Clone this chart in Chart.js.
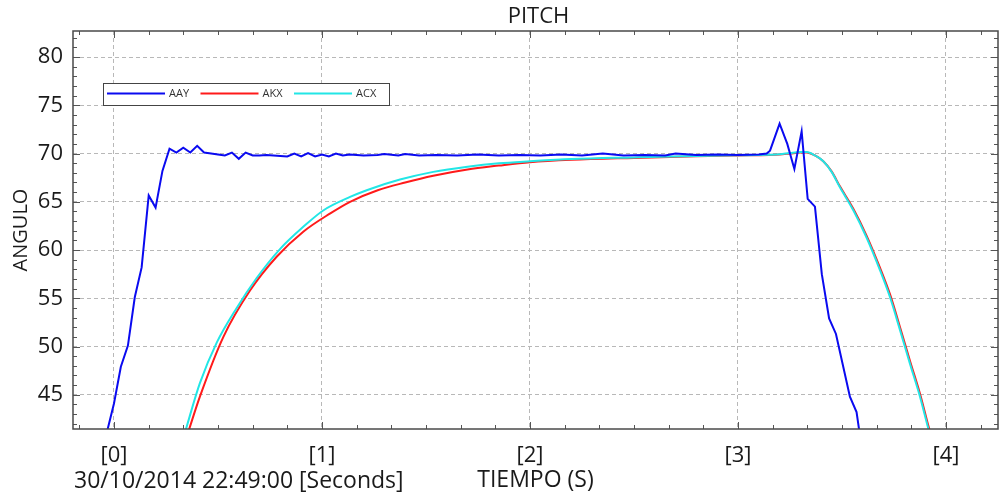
<!DOCTYPE html>
<html>
<head>
<meta charset="utf-8">
<title>PITCH</title>
<script src="https://cdn.jsdelivr.net/npm/chart.js@4.4.1/dist/chart.umd.min.js"></script>
<style>
  html, body { margin: 0; padding: 0; background: #fff; }
  canvas { display: block; }
</style>
</head>
<body>
<canvas id="pitchChart" width="1000" height="494"></canvas>
<script>
// series names and colours
var seriesNames = ['AAY', 'AKX', 'ACX'];
var seriesColors = ['#0a0af0', '#ff1a1a', '#22e6e6'];

// tick labels
var xTicks = [0, 1, 2, 3, 4];
var yTicks = [45, 50, 55, 60, 65, 70, 75, 80];

// AAY (sensor, raw)
var aayTime = [-0.033, 0, 0.033, 0.067, 0.1, 0.133, 0.167, 0.2, 0.233, 0.267, 0.3, 0.333, 0.367, 0.4,
  0.433, 0.467, 0.5, 0.533, 0.567, 0.6, 0.633, 0.667, 0.7, 0.733, 0.767, 0.8, 0.833, 0.867, 0.9,
  0.933, 0.967, 1.0, 1.033, 1.067, 1.1, 1.133, 1.2, 1.267, 1.3, 1.367, 1.4, 1.467, 1.55, 1.65,
  1.75, 1.85, 1.95, 2.05, 2.15, 2.25, 2.35, 2.45, 2.55, 2.65, 2.7, 2.8, 2.9, 3.0, 3.1, 3.138,
  3.154, 3.2, 3.237, 3.271, 3.306, 3.335, 3.37, 3.403, 3.438, 3.471, 3.506, 3.538, 3.57, 3.603];
var aayValues = [41.2, 44.1, 47.9, 50.1, 55.1, 58.2, 65.65, 64.4, 68.2, 70.5, 70.1, 70.6, 70.1, 70.8,
  70.1, 70.0, 69.9, 69.8, 70.1, 69.45, 70.1, 69.8, 69.8, 69.85, 69.8, 69.75, 69.7, 70.0, 69.7,
  70.05, 69.7, 69.9, 69.7, 70.0, 69.8, 69.9, 69.8, 69.85, 69.95, 69.8, 69.95, 69.8, 69.85, 69.8,
  69.9, 69.8, 69.85, 69.8, 69.9, 69.8, 70.0, 69.8, 69.85, 69.8, 70.0, 69.85, 69.9, 69.85, 69.9, 70.0,
  70.3, 73.1, 71.0, 68.4, 72.3, 65.3, 64.5, 57.5, 52.9, 51.3, 47.9, 44.8, 43.2, 38.3];

// AKX (filtered)
var akxTime = [0.355, 0.413, 0.526, 0.654, 0.782, 0.91, 1.04, 1.135, 1.268, 1.4, 1.535, 1.7, 1.85,
  2.0, 2.2, 2.5, 2.8, 3.0, 3.15, 3.2, 3.25, 3.3, 3.33, 3.37, 3.41, 3.45, 3.49, 3.555, 3.618,
  3.683, 3.731, 3.779, 3.827, 3.875, 3.915, 3.95];
var akxValues = [41.0, 44.8, 51.0, 55.8, 59.3, 61.9, 63.8, 65.0, 66.2, 67.0, 67.7, 68.35, 68.75,
  69.1, 69.35, 69.55, 69.72, 69.8, 69.85, 69.9, 70.0, 70.1, 70.12, 69.8, 69.2, 68.15, 66.6, 64.25, 61.5,
  58.15, 55.4, 52.0, 48.5, 45.1, 41.8, 39.1];

// ACX (complementary)
var acxTime = [0.34, 0.413, 0.494, 0.59, 0.686, 0.798, 0.91, 1.006, 1.135, 1.215, 1.375, 1.535, 1.7,
  1.85, 2.0, 2.2, 2.5, 2.8, 3.0, 3.15, 3.2, 3.25, 3.3, 3.33, 3.37, 3.41, 3.45, 3.49, 3.555, 3.618,
  3.683, 3.731, 3.779, 3.827, 3.875, 3.915, 3.95];
var acxValues = [41.0, 46.2, 50.4, 54.0, 57.1, 60.1, 62.4, 64.1, 65.5, 66.2, 67.3, 68.1, 68.64,
  68.99, 69.2, 69.43, 69.6, 69.75, 69.82, 69.88, 69.92, 70.05, 70.15, 70.15, 69.8, 69.2, 68.1, 66.5, 64.1, 61.3,
  57.9, 55.1, 51.7, 48.2, 44.8, 41.5, 38.8];

var dateText = '30/10/2014 22:49:00 [Seconds]';
var fontFamily = '"Open Sans", "Noto Sans", sans-serif';

function toPoints(times, values) {
  return times.map(function(t, i) { return {x: t, y: values[i]}; });
}

// frame, inner tick marks, title, date and boxed legend
var decorations = {
  id: 'decorations',
  afterDraw: function(chart) {
    var ctx = chart.ctx;
    var a = chart.chartArea;
    var xs = chart.scales.x, ys = chart.scales.y;
    ctx.save();

    ctx.strokeStyle = '#555';
    ctx.lineWidth = 1;
    ctx.beginPath();
    // x minor ticks every 1/6 s
    for (var k = -1; k <= 25; k++) {
      var v = k / 6;
      if (v < xs.min || v > xs.max) continue;
      var px = Math.round(xs.getPixelForValue(v)) + 0.5;
      var len = (k % 6 === 0) ? 7 : 4;
      ctx.moveTo(px, a.bottom); ctx.lineTo(px, a.bottom - len);
      ctx.moveTo(px, a.top); ctx.lineTo(px, a.top + len);
    }
    // y minor ticks every unit
    for (var y = 42; y <= 82; y++) {
      var py = Math.round(ys.getPixelForValue(y)) + 0.5;
      var l2 = (y % 5 === 0) ? 7 : 4;
      ctx.moveTo(a.left, py); ctx.lineTo(a.left + l2, py);
      ctx.moveTo(a.right, py); ctx.lineTo(a.right - l2, py);
    }
    ctx.stroke();

    ctx.strokeStyle = '#4a4a4a';
    ctx.lineWidth = 1.5;
    ctx.strokeRect(a.left, a.top, a.right - a.left, a.bottom - a.top);

    ctx.fillStyle = '#1a1a1a';
    ctx.font = '22px ' + fontFamily;
    ctx.textBaseline = 'middle';
    ctx.textAlign = 'center';
    ctx.fillText('PITCH', (a.left + a.right) / 2 + 3, 17);
    ctx.textAlign = 'left';
    ctx.font = '23px ' + fontFamily;
    ctx.fillText(dateText, 74, 481);

    // legend
    var lx = 103, ly = 83, lw = 286, lh = 22;
    ctx.fillStyle = '#fff';
    ctx.fillRect(lx, ly, lw, lh);
    ctx.strokeStyle = '#444';
    ctx.lineWidth = 1;
    ctx.strokeRect(lx + 0.5, ly + 0.5, lw, lh);
    ctx.font = '11px ' + fontFamily;
    chart.data.datasets.forEach(function(ds, i) {
      var sx = 107 + i * 93.5;
      ctx.strokeStyle = ds.borderColor;
      ctx.lineWidth = 2;
      ctx.beginPath();
      ctx.moveTo(sx, ly + 10.5); ctx.lineTo(sx + 58, ly + 10.5);
      ctx.stroke();
      ctx.fillStyle = '#333';
      ctx.fillText(ds.label, sx + 62, ly + 11);
    });
    ctx.restore();
  }
};

var ctx = document.getElementById('pitchChart');
var chart = new Chart(ctx, {
  type: 'line',
  data: {
    datasets: [
      {
        label: seriesNames[0],
        data: toPoints(aayTime, aayValues),
        borderColor: seriesColors[0],
        borderWidth: 2,
        pointRadius: 0,
        tension: 0,
        order: 0
      },
      {
        label: seriesNames[1],
        data: toPoints(akxTime, akxValues),
        borderColor: seriesColors[1],
        borderWidth: 2,
        pointRadius: 0,
        cubicInterpolationMode: 'monotone',
        order: 2
      },
      {
        label: seriesNames[2],
        data: toPoints(acxTime, acxValues),
        borderColor: seriesColors[2],
        borderWidth: 2,
        pointRadius: 0,
        cubicInterpolationMode: 'monotone',
        order: 1
      }
    ]
  },
  options: {
    responsive: false,
    animation: false,
    devicePixelRatio: 1,
    layout: { padding: { top: 31, right: 2, bottom: 0, left: 0 } },
    plugins: {
      legend: { display: false },
      title: { display: false },
      tooltip: { enabled: false }
    },
    scales: {
      x: {
        type: 'linear',
        min: -0.197,
        max: 4.25,
        afterBuildTicks: function(s) { s.ticks = xTicks.map(function(v) { return {value: v}; }); },
        afterFit: function(s) { s.height = 65; },
        ticks: {
          callback: function(v) { return '[' + v + ']'; },
          font: { family: fontFamily, size: 22 },
          color: '#1a1a1a',
          padding: 14,
          maxRotation: 0,
          autoSkip: false
        },
        grid: { color: '#b8b8b8', lineWidth: 1, drawTicks: false },
        border: { display: false, dash: [4, 3] },
        title: {
          display: true,
          text: 'TIEMPO (S)',
          font: { family: fontFamily, size: 23 },
          color: '#1a1a1a',
          padding: 0
        }
      },
      y: {
        min: 41.45,
        max: 82.7,
        afterBuildTicks: function(s) { s.ticks = yTicks.map(function(v) { return {value: v}; }); },
        afterFit: function(s) { s.width = 73; },
        ticks: {
          font: { family: fontFamily, size: 22 },
          color: '#1a1a1a',
          padding: 10
        },
        grid: { color: '#b8b8b8', lineWidth: 1, drawTicks: false },
        border: { display: false, dash: [4, 3] },
        title: {
          display: true,
          text: 'ANGULO',
          font: { family: fontFamily, size: 20 },
          color: '#1a1a1a',
          padding: { top: 9, bottom: 0 }
        }
      }
    }
  },
  plugins: [decorations]
});
</script>
</body>
</html>
